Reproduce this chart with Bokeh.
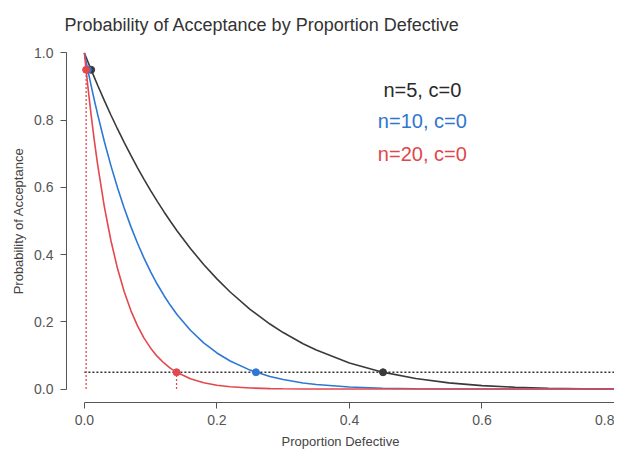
from bokeh.plotting import figure
from bokeh.embed import file_html
from bokeh.resources import INLINE
from bokeh.layouts import row
from bokeh.models import ColumnDataSource, Range1d, Label, PrintfTickFormatter, Spacer

# Proportion defective grid and probability of acceptance
p_defective = [0, 0.005, 0.01, 0.015, 0.02, 0.03, 0.04, 0.05, 0.06, 0.07, 0.08, 0.09,
               0.10, 0.11, 0.12, 0.13, 0.14, 0.16, 0.18, 0.20, 0.22, 0.25, 0.28, 0.30,
               0.33, 0.35, 0.40, 0.45, 0.50, 0.55, 0.60, 0.65, 0.70, 0.75, 0.85]
pa_n5 = [1.0, 0.9752, 0.9510, 0.9272, 0.9039, 0.8587, 0.8154, 0.7738, 0.7339, 0.6957,
         0.6591, 0.6240, 0.5905, 0.5584, 0.5277, 0.4984, 0.4704, 0.4182, 0.3707, 0.3277,
         0.2887, 0.2373, 0.1935, 0.1681, 0.1350, 0.1160, 0.0778, 0.0503, 0.0313, 0.0185,
         0.0102, 0.0053, 0.0024, 0.0010, 0.0001]
pa_n10 = [1.0, 0.9511, 0.9044, 0.8597, 0.8171, 0.7374, 0.6648, 0.5987, 0.5386, 0.4840,
          0.4344, 0.3894, 0.3487, 0.3118, 0.2785, 0.2484, 0.2213, 0.1749, 0.1374, 0.1074,
          0.0834, 0.0563, 0.0374, 0.0282, 0.0182, 0.0135, 0.0060, 0.0025, 0.0010, 0.0003,
          0.0001, 0.0, 0.0, 0.0, 0.0]
pa_n20 = [1.0, 0.9046, 0.8179, 0.7391, 0.6676, 0.5438, 0.4420, 0.3585, 0.2901, 0.2342,
          0.1887, 0.1516, 0.1216, 0.0972, 0.0776, 0.0617, 0.0490, 0.0306, 0.0189, 0.0115,
          0.0069, 0.0032, 0.0014, 0.0008, 0.0003, 0.0002, 0.0, 0.0, 0.0, 0.0,
          0.0, 0.0, 0.0, 0.0, 0.0]

# marked points (Pa = 0.95 and Pa = 0.05)
plan_labels = ["n=5, c=0", "n=10, c=0", "n=20, c=0"]
p_at_95 = [0.0102, 0.0051, 0.0026]
p_at_05 = [0.4507, 0.2589, 0.1391]
pa_high = 0.95
pa_low = 0.05
x_ticks = [0.0, 0.2, 0.4, 0.6, 0.8]
y_ticks = [0.0, 0.2, 0.4, 0.6, 0.8, 1.0]

colors = ["#3a3a3a", "#2c78d4", "#e4474c"]
text_colors = ["#2a2a2a", "#2f76d0", "#e0474c"]

p = figure(width=606, height=451, output_backend="svg", toolbar_location=None,
           x_range=Range1d(-0.027, 0.80), y_range=Range1d(-0.04, 1.04),
           min_border_left=0, min_border_right=0, min_border_top=39, min_border_bottom=0,
           title="Probability of Acceptance by Proportion Defective")
p.outline_line_color = None
p.xgrid.visible = False
p.ygrid.visible = False
p.background_fill_color = "white"
p.border_fill_color = "white"

p.title.text_font = "Liberation Sans"
p.title.text_font_size = "18px"
p.title.text_font_style = "normal"
p.title.text_color = "#333333"
p.title.align = "left"
p.title.offset = -2

for ax in (p.xaxis[0], p.yaxis[0]):
    ax.axis_line_color = "#555555"
    ax.major_tick_line_color = "#555555"
    ax.major_tick_out = 6
    ax.major_tick_in = 0
    ax.minor_tick_line_color = None
    ax.major_label_text_font = "Liberation Sans"
    ax.major_label_text_font_size = "14px"
    ax.major_label_text_color = "#555555"
    ax.axis_label_text_font = "Liberation Sans"
    ax.axis_label_text_font_size = "13px"
    ax.axis_label_text_font_style = "normal"
    ax.axis_label_text_color = "#444444"
    ax.formatter = PrintfTickFormatter(format="%.1f")

p.xaxis.ticker = x_ticks
p.yaxis.ticker = y_ticks
p.xaxis.bounds = (0, 0.8)
p.yaxis.bounds = (0, 1)
p.xaxis.axis_label = "Proportion Defective"
p.yaxis.axis_label = "Probability of Acceptance"
p.yaxis.major_label_orientation = 0
p.xaxis.major_label_standoff = 6
p.yaxis.major_label_standoff = 7
p.xaxis.axis_label_standoff = 6
p.yaxis.axis_label_standoff = 5

src = ColumnDataSource(dict(x=p_defective, a=pa_n5, b=pa_n10, c=pa_n20))
for col, c in zip(["a", "b", "c"], colors):
    p.line("x", col, source=src, line_color=c, line_width=1.6)

# dotted reference lines
p.segment(x0=[0], y0=[pa_low], x1=[0.85], y1=[pa_low], line_color="#333333",
          line_width=1.3, line_dash="2 2")
p.segment(x0=[p_at_95[2], p_at_05[2]], y0=[0, 0], x1=[p_at_95[2], p_at_05[2]],
          y1=[pa_high, pa_low], line_color=colors[2], line_width=1.3, line_dash="2 2")

# points
for i in range(3):
    p.scatter(x=[p_at_95[i], p_at_05[i]], y=[pa_high, pa_low], size=7,
              fill_color=colors[i], line_color=colors[i])

label_y = [0.891, 0.797, 0.699]
for i in range(3):
    p.add_layout(Label(x=0.51, y=label_y[i], text=plan_labels[i], text_align="center",
                       text_baseline="middle", text_font="Liberation Sans",
                       text_font_size="20px", text_color=text_colors[i]))

layout = row(Spacer(width=8, height=451), p)
open("out.html", "w").write(file_html(layout, INLINE))
